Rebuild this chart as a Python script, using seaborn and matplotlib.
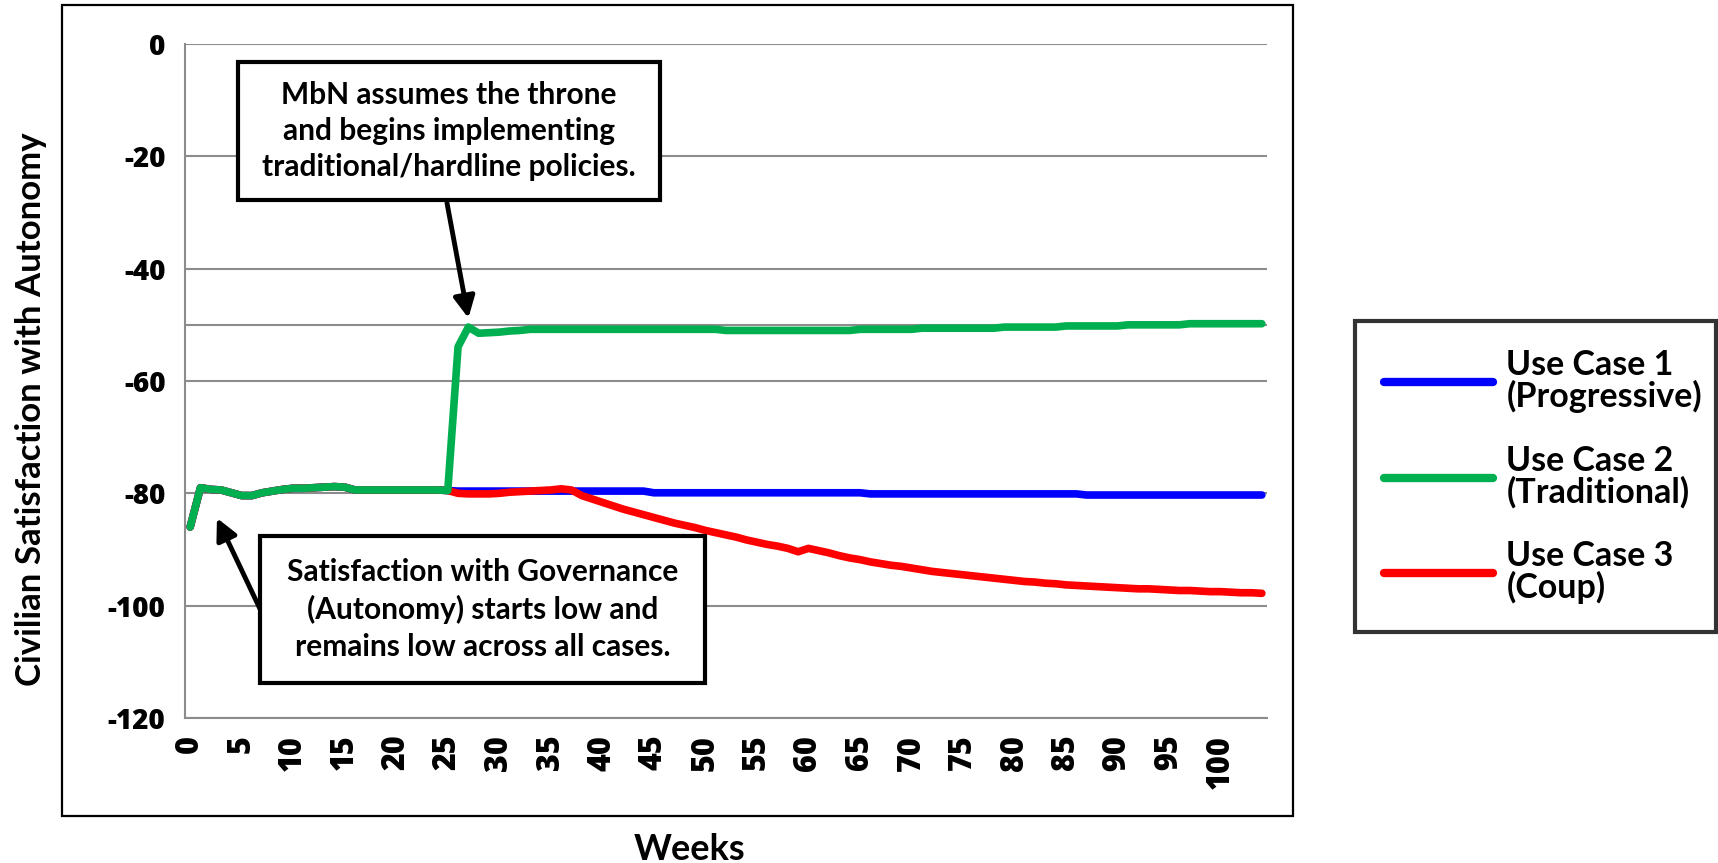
import matplotlib
matplotlib.use("Agg")
import matplotlib.pyplot as plt
from matplotlib.patches import Rectangle
from matplotlib.lines import Line2D
import seaborn as sns
import pandas as pd

# ---- data -------------------------------------------------------------
weeks = list(range(0, 105))

# shared opening period (weeks 0-25)
baseline = [-86.0, -79.0, -79.3, -79.4, -79.9, -80.4, -80.4, -79.9, -79.6, -79.3,
            -79.1, -79.1, -79.0, -78.9, -78.8, -78.9, -79.4, -79.4, -79.4, -79.4,
            -79.4, -79.4, -79.4, -79.4, -79.4, -79.5]

progressive_tail = ([-79.6] * 19 + [-79.9] * 21 + [-80.1] * 21 + [-80.3] * 18)

traditional_tail = ([-53.9, -50.4, -51.5, -51.4, -51.3, -51.1, -51.0, -50.8]
                    + [-50.8] * 18 + [-51.0] * 13 + [-50.8] * 6 + [-50.6] * 8
                    + [-50.4] * 6 + [-50.2] * 6 + [-50.0] * 6 + [-49.8] * 8)

coup_tail = [-80.0, -80.1, -80.1, -80.1, -80.0, -79.8, -79.7, -79.6, -79.5, -79.4,
             -79.2, -79.4, -80.4, -81.0, -81.6, -82.2, -82.8, -83.3, -83.8, -84.3,
             -84.8, -85.3, -85.7, -86.1, -86.6, -87.0, -87.4, -87.8, -88.3, -88.7,
             -89.1, -89.4, -89.8, -90.4, -89.8, -90.2, -90.6, -91.1, -91.5, -91.8,
             -92.2, -92.5, -92.8, -93.0, -93.3, -93.6, -93.9, -94.1, -94.3, -94.5,
             -94.7, -94.9, -95.1, -95.3, -95.5, -95.7, -95.8, -96.0, -96.1, -96.3,
             -96.4, -96.5, -96.6, -96.7, -96.8, -96.9, -97.0, -97.0, -97.1, -97.2,
             -97.3, -97.3, -97.4, -97.5, -97.5, -97.6, -97.7, -97.7, -97.8]

use_case_1 = baseline + progressive_tail
use_case_2 = baseline + traditional_tail
use_case_3 = baseline + coup_tail

series_names = ["Use Case 1\n(Progressive)", "Use Case 2\n(Traditional)", "Use Case 3\n(Coup)"]
series_colors = ["#0000FF", "#00B050", "#FF0000"]

y_ticks = [0, -20, -40, -60, -80, -100, -120]
y_tick_labels = ["0", "-20", "-40", "-60", "-80", "-100", "-120"]
x_ticks = list(range(0, 101, 5))
x_tick_labels = [str(t) for t in x_ticks]

note_top = "MbN assumes the throne\nand begins implementing\ntraditional/hardline policies."
note_bottom = "Satisfaction with Governance\n(Autonomy) starts low and\nremains low across all cases."

# ---- figure -----------------------------------------------------------
sns.set_style("white")
plt.rcParams["font.family"] = ["Lato", "DejaVu Sans"]
plt.rcParams["axes.unicode_minus"] = False
plt.rcParams["text.color"] = "black"
plt.rcParams["xtick.color"] = "black"
plt.rcParams["ytick.color"] = "black"

W, H = 1718, 863
fig = plt.figure(figsize=(W / 100, H / 100), dpi=100)
fig.patch.set_facecolor("white")

def fx(px):
    return px / W

def fy(py):
    return 1 - py / H

ax = fig.add_axes([fx(185), fy(718), fx(1267) - fx(185), fy(44) - fy(718)])

frames = [pd.DataFrame({"week": weeks, "value": vals})
          for vals in (use_case_1, use_case_2, use_case_3)]

# progressive at the bottom, coup above it, traditional on top
layer = {0: 3, 2: 4, 1: 5}
for i in (0, 2, 1):
    sns.lineplot(data=frames[i], x="week", y="value", ax=ax, color=series_colors[i],
                 linewidth=5.5, solid_capstyle="round", solid_joinstyle="round",
                 zorder=layer[i], legend=False)

grid_color = "#8C8C8C"
tick_family = ["Open Sans", "DejaVu Sans"]
ax.set_xlim(-0.5, 104.5)
ax.set_ylim(-120, 0)
ax.set_yticks(y_ticks)
ax.set_yticklabels(y_tick_labels, family=tick_family, fontweight="heavy", fontsize=20)
ax.set_xticks(x_ticks)
ax.set_xticklabels(x_tick_labels, rotation=90, va="top", family=tick_family,
                   fontweight="heavy", fontsize=22)
ax.tick_params(axis="y", length=9, width=1.5, color=grid_color, pad=5)
ax.tick_params(axis="x", length=0, pad=12)
ax.set_xlabel("")
ax.set_ylabel("")
ax.grid(axis="y", color=grid_color, linewidth=1.5)
ax.axhline(-50, color=grid_color, linewidth=1.5, zorder=1)
ax.set_axisbelow(True)
for side in ("top", "right"):
    ax.spines[side].set_visible(False)
for side in ("left", "bottom"):
    ax.spines[side].set_color(grid_color)
    ax.spines[side].set_linewidth(1.5)

# outer chart frame
fig.add_artist(Rectangle((fx(62), fy(816)), fx(1293) - fx(62), fy(5) - fy(816),
                         transform=fig.transFigure, fill=False, edgecolor="black",
                         linewidth=1.6, zorder=0))

# axis titles
fig.text(fx(31), fy(409), "Civilian Satisfaction with Autonomy", rotation=90,
         ha="center", va="center", fontsize=25, fontweight="bold")
fig.text(fx(689), fy(849), "Weeks", ha="center", va="center",
         fontsize=26, fontweight="bold")

# annotation boxes
def note_box(x0, y0, x1, y1, text, size):
    fig.add_artist(Rectangle((fx(x0), fy(y1)), fx(x1) - fx(x0), fy(y0) - fy(y1),
                             transform=fig.transFigure, facecolor="white",
                             edgecolor="black", linewidth=3, zorder=5))
    fig.text(fx((x0 + x1) / 2), fy((y0 + y1) / 2), text, ha="center", va="center",
             fontsize=size, fontweight="bold", linespacing=1.36, zorder=6)

note_box(238, 62, 660, 200, note_top, 21.5)
note_box(260, 536, 705, 683, note_bottom, 21.5)

arrow_kw = dict(arrowstyle="-|>", color="black", lw=3.5, mutation_scale=32,
                shrinkA=0, shrinkB=0)
ax.annotate("", xy=(27.0, -48.8), xycoords="data",
            xytext=(447, H - 203), textcoords="figure pixels",
            arrowprops=arrow_kw, annotation_clip=False, zorder=7)
ax.annotate("", xy=(2.6, -84.4), xycoords="data",
            xytext=(261, H - 611), textcoords="figure pixels",
            arrowprops=arrow_kw, annotation_clip=False, zorder=7)

# legend
handles = [Line2D([0], [0], color=c, linewidth=6) for c in series_colors]
leg = fig.legend(handles, series_names, loc="center",
                 bbox_to_anchor=(fx(1355), fy(632), fx(1716) - fx(1355), fy(321) - fy(632)),
                 mode="expand", fontsize=24.5, frameon=True, fancybox=False,
                 handlelength=3.2, handletextpad=0.4, labelspacing=0.93,
                 borderpad=0.85, borderaxespad=0)
for txt in leg.get_texts():
    txt.set_fontweight("bold")
    txt.set_linespacing(0.95)
leg.get_frame().set_edgecolor("black")
leg.get_frame().set_linewidth(3)

fig.savefig("out.png", dpi=100, facecolor="white")
